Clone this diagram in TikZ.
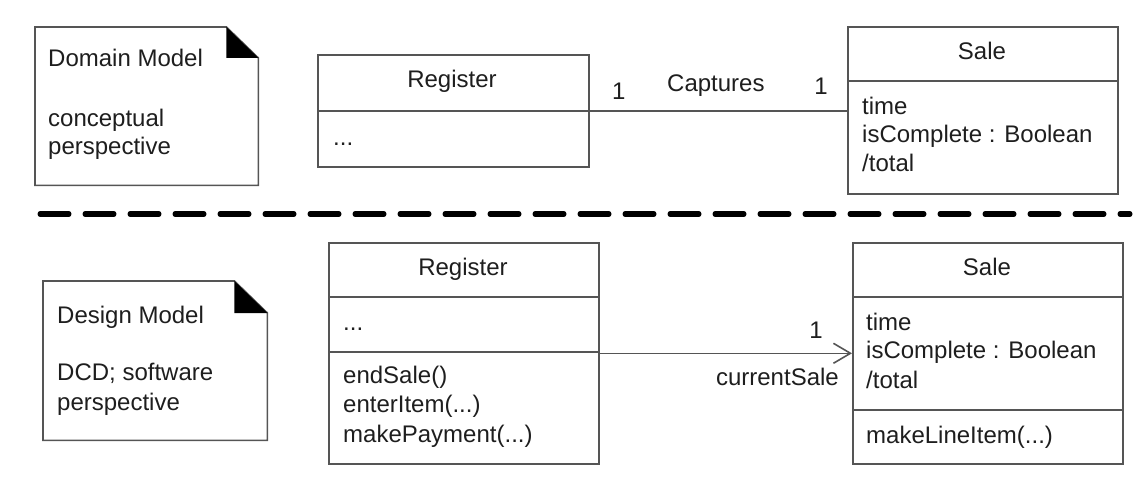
\documentclass[tikz,border=0pt]{standalone}
\usepackage{fontspec}
\setmainfont{Liberation Sans}
\usepackage{xcolor}
\usepackage{tikz}
\usetikzlibrary{positioning, arrows.meta, calc}
\definecolor{umlline}{HTML}{555555}
\definecolor{umltext}{HTML}{1E1E1E}

\begin{document}
\begin{tikzpicture}[
  x=1pt, y=-1pt,
  cls/.style={draw=umlline, line width=1.6pt, inner sep=0pt, anchor=north west},
  notebox/.style={inner sep=0pt, anchor=north west},
  txt/.style={font=\fontsize{24}{29}\selectfont, text=umltext, inner sep=0pt,
              anchor=base west},
  lbl/.style={font=\fontsize{24}{29}\selectfont, text=umltext, inner sep=0pt},
  ln/.style={draw=umlline, line width=1.6pt},
  ar/.style={ln, -{Straight Barb[length=17pt, width=20pt, line width=1.6pt]}},
  sep/.style={line width=5pt, dash pattern=on 29pt off 16pt, line cap=round},
]
\useasboundingbox (0,0) rectangle (1144,484);

% ===================== Domain model (top) =====================
\node[notebox, minimum width=223pt, minimum height=158pt] (dom) at (35,27) {};
\draw[ln] (dom.north west) -- ([xshift=-32pt]dom.north east)
  -- ([yshift=-31pt]dom.north east) -- (dom.south east)
  -- (dom.south west) -- cycle;
\fill[black] ([xshift=-32pt]dom.north east) -- ([xshift=-32pt,yshift=-31pt]dom.north east)
  -- ([yshift=-31pt]dom.north east) -- cycle;
\node[txt] (domT) at (48,67) {Domain Model};
\node[txt] (domD1) at (48,127) {conceptual};
\node[txt] (domD2) at (48,155) {perspective};

\node[cls, minimum width=271pt, minimum height=112pt] (regA) at (317,54) {};
\draw[ln] (regA.west |- 0,111) -- (regA.east |- 0,111);
\node[lbl, anchor=base] (regAn) at (452,88) {Register};
\node[txt] (regAa) at (333,146) {...};

\node[cls, minimum width=270pt, minimum height=167pt] (saleA) at (847,26) {};
\draw[ln] (saleA.west |- 0,81) -- (saleA.east |- 0,81);
\node[lbl, anchor=base] (saleAn) at (982,60) {Sale};
\node[txt] (saleAa1) at (862,115) {time};
\node[txt] (saleAa2) at (862,143) {isComplete : Boolean};
\node[txt] (saleAa3) at (862,172) {/total};

\draw[ln] (regA.east) -- (regA.east -| saleA.west);
\node[lbl, anchor=base west] (mulA1) at (612,100) {1};
\node[lbl, anchor=base west] (capt) at (667,92) {Captures};
\node[lbl, anchor=base east] (mulA2) at (828,95) {1};

% separator
\coordinate (sepL) at (40,214);
\coordinate (sepR) at (1130,214);
\draw[sep] (sepL) -- (sepR);

% ===================== Design model (bottom) =====================
\node[notebox, minimum width=224pt, minimum height=159pt] (des) at (43,281) {};
\draw[ln] (des.north west) -- ([xshift=-33pt]des.north east)
  -- ([yshift=-32pt]des.north east) -- (des.south east)
  -- (des.south west) -- cycle;
\fill[black] ([xshift=-33pt]des.north east) -- ([xshift=-33pt,yshift=-32pt]des.north east)
  -- ([yshift=-32pt]des.north east) -- cycle;
\node[txt] (desT) at (57,323) {Design Model};
\node[txt] (desD1) at (57,380) {DCD; software};
\node[txt] (desD2) at (57,410) {perspective};

\node[cls, minimum width=270pt, minimum height=221pt] (regB) at (328,242) {};
\draw[ln] (regB.west |- 0,297) -- (regB.east |- 0,297);
\draw[ln] (regB.west |- 0,352) -- (regB.east |- 0,352);
\node[lbl, anchor=base] (regBn) at (463,275) {Register};
\node[txt] (regBa) at (343,330) {...};
\node[txt] (regBm1) at (343,383) {endSale()};
\node[txt] (regBm2) at (343,412) {enterItem(...)};
\node[txt] (regBm3) at (343,442) {makePayment(...)};

\node[cls, minimum width=270pt, minimum height=221pt] (saleB) at (852,242) {};
\draw[ln] (saleB.west |- 0,297) -- (saleB.east |- 0,297);
\draw[ln] (saleB.west |- 0,410) -- (saleB.east |- 0,410);
\node[lbl, anchor=base] (saleBn) at (987,275) {Sale};
\node[txt] (saleBa1) at (866,330) {time};
\node[txt] (saleBa2) at (866,358) {isComplete : Boolean};
\node[txt] (saleBa3) at (866,388) {/total};
\node[txt] (saleBm) at (866,443) {makeLineItem(...)};

\draw[ar] (regB.east) -- (regB.east -| saleB.west);
\node[lbl, anchor=base east] (mulB) at (823,338) {1};
\node[lbl, anchor=base east] (curS) at (839,385) {currentSale};
\end{tikzpicture}
\end{document}
